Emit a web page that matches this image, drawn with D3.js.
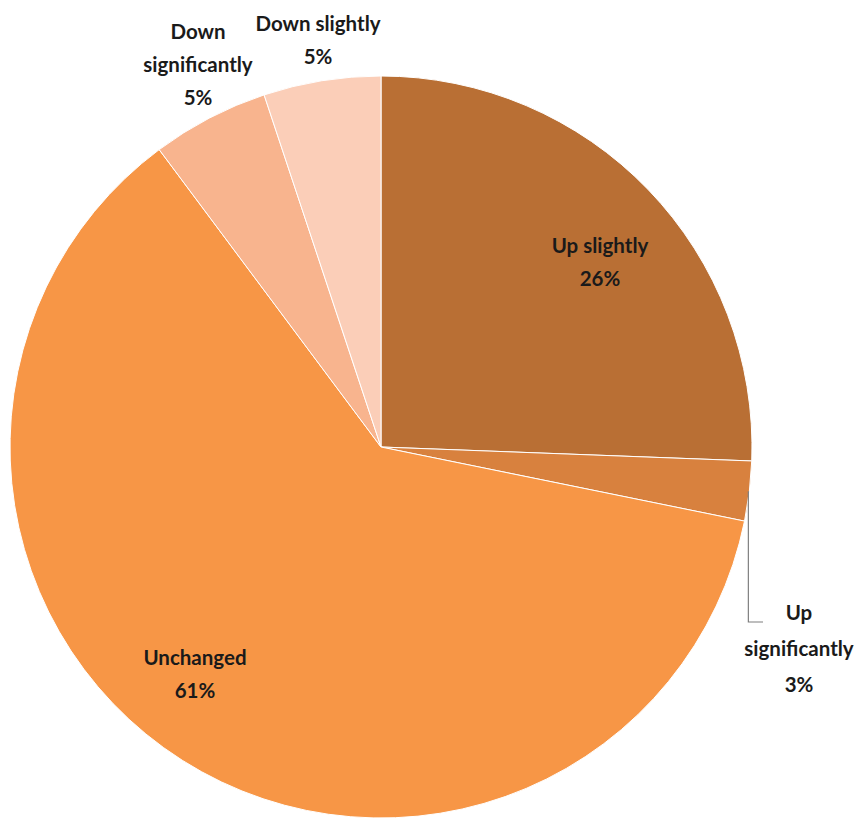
<!DOCTYPE html>
<html>
<head>
<meta charset="utf-8">
<script src="https://cdn.jsdelivr.net/npm/d3@7"></script>
<style>
  body { margin: 0; background: #fff; }
  text { font-family: Lato, "Open Sans", sans-serif; font-weight: bold; fill: #1a1a1a; }
</style>
</head>
<body>
<svg id="chart" width="855" height="818"></svg>
<script>
// slices, clockwise from 12 o'clock
var categories = ["Up slightly", "Up significantly", "Unchanged", "Down significantly", "Down slightly"];
var values = [25.6, 2.6, 61.6, 5.1, 5.1];
var labels = ["26%", "3%", "61%", "5%", "5%"];
var colors = ["#B96F34", "#D8813E", "#F79646", "#F8B48E", "#FBCEB8"];

var svg = d3.select("#chart");
var cx = 381, cy = 447, r = 371;

var data = categories.map(function(c, i) { return {name: c, value: values[i], label: labels[i], color: colors[i]}; });

var pie = d3.pie().value(function(d) { return d.value; }).sort(null);
var arc = d3.arc().innerRadius(0).outerRadius(r);
var arcs = pie(data);

var g = svg.append("g").attr("transform", "translate(" + cx + "," + cy + ")");
g.selectAll("path")
  .data(arcs)
  .enter().append("path")
  .attr("d", arc)
  .attr("fill", function(d) { return d.data.color; })
  .attr("stroke", "#fff")
  .attr("stroke-width", 1);

// label text lines + centre positions (page coords)
var labelLines = [
  [["Up slightly", "26%"], 600, 253, 33],
  [["Up", "significantly", "3%"], 799, 620, 36],
  [["Unchanged", "61%"], 195, 665, 33],
  [["Down", "significantly", "5%"], 198, 39, 33],
  [["Down slightly", "5%"], 318, 31, 33]
];

labelLines.forEach(function(l, i) {
  var t = svg.append("text")
    .attr("text-anchor", "middle")
    .style("font-size", "20.5px");
  l[0].forEach(function(line, j) {
    var txt = j === l[0].length - 1 ? arcs[i].data.label : line;
    t.append("tspan").attr("x", l[1]).attr("y", l[2] + j * l[3]).text(txt);
  });
});

// leader line for the small slice
var a = arcs[1];
var mid = (a.startAngle + a.endAngle) / 2;
var px = cx + Math.sin(mid) * r, py = cy - Math.cos(mid) * r;
svg.append("path")
  .attr("d", "M" + (px - 1) + "," + py + " L" + (px - 1) + ",622 L763,622")
  .attr("fill", "none")
  .attr("stroke", "#7f7f7f")
  .attr("stroke-width", 1.2);
</script>
</body>
</html>
